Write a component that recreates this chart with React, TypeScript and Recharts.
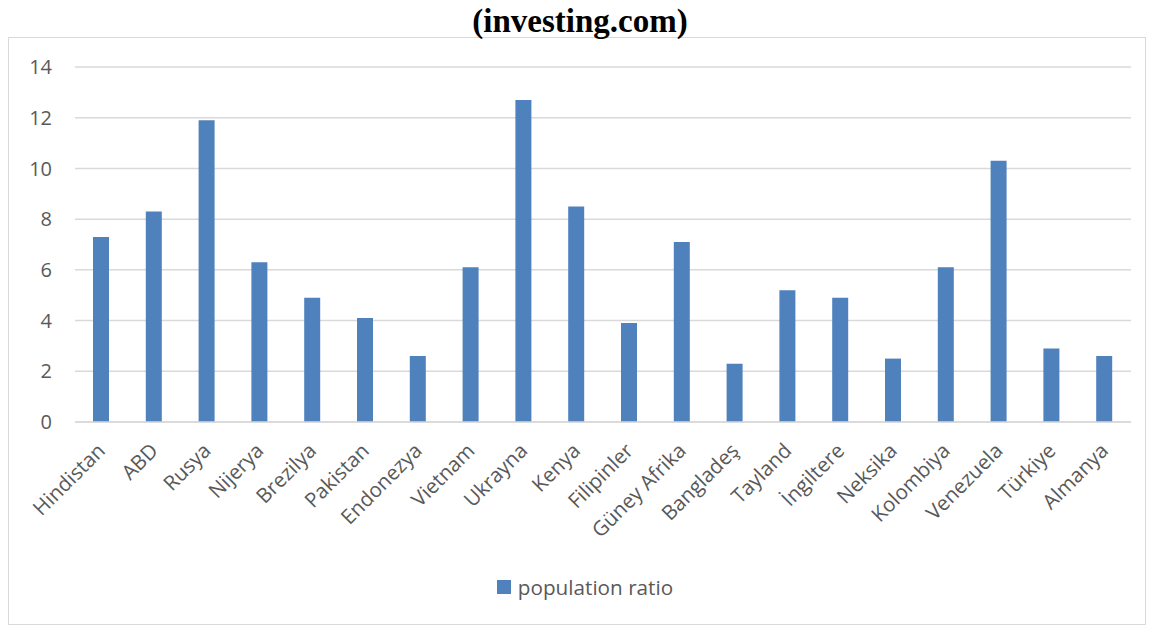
import { BarChart, Bar, XAxis, YAxis, CartesianGrid, Legend } from "recharts";

const countries = [
  "Hindistan", "ABD", "Rusya", "Nijerya", "Brezilya", "Pakistan", "Endonezya",
  "Vietnam", "Ukrayna", "Kenya", "Filipinler", "Güney Afrika", "Bangladeş",
  "Tayland", "İngiltere", "Neksika", "Kolombiya", "Venezuela", "Türkiye", "Almanya",
];
const populationRatio = [
  7.3, 8.3, 11.9, 6.3, 4.9, 4.1, 2.6, 6.1, 12.7, 8.5,
  3.9, 7.1, 2.3, 5.2, 4.9, 2.5, 6.1, 10.3, 2.9, 2.6,
];
const yTicks = [0, 2, 4, 6, 8, 10, 12, 14];

const data = countries.map((name, i) => ({ name, value: populationRatio[i] }));

const FONT = "'Open Sans', sans-serif";
const TEXT = "#595959";
const BLUE = "#4f81bd";

const CountryTick = ({ x, y, payload }: any) => (
  <g transform={`translate(${x + 5},${y + 30})`}>
    <text
      x={0}
      y={0}
      textAnchor="end"
      transform="rotate(-45)"
      fill={TEXT}
      fontSize={20.5}
      fontFamily={FONT}
    >
      {payload.value}
    </text>
  </g>
);

const LegendContent = () => (
  <div
    style={{
      display: "flex",
      justifyContent: "center",
      alignItems: "center",
      paddingLeft: 30,
      fontFamily: FONT,
      fontSize: 20.7,
      color: TEXT,
      height: 30,
    }}
  >
    <span style={{ width: 14, height: 14, background: BLUE, marginRight: 7, display: "inline-block" }} />
    <span>population ratio</span>
  </div>
);

export default function App() {
  return (
    <div style={{ position: "relative", width: 1138, height: 618 }}>
      <div
        style={{
          position: "absolute",
          top: 29,
          left: 0,
          width: 1138,
          height: 588,
          border: "1px solid #d9d9d9",
          boxSizing: "border-box",
          background: "#fff",
        }}
      >
        <BarChart
          width={1136}
          height={586}
          data={data}
          margin={{ top: 29, right: 14, bottom: 22, left: 0 }}
        >
          <CartesianGrid vertical={false} stroke="#d9d9d9" strokeWidth={1.5} />
          <XAxis
            dataKey="name"
            interval={0}
            height={150}
            tickSize={0}
            tickMargin={0}
            tickLine={false}
            axisLine={{ stroke: "#d9d9d9", strokeWidth: 1.5 }}
            tick={<CountryTick />}
          />
          <YAxis
            width={66}
            domain={[0, 14]}
            ticks={yTicks}
            axisLine={false}
            tickLine={false}
            tickSize={0}
            tickMargin={23}
            tick={{ fill: TEXT, fontSize: 20, fontFamily: FONT }}
          />
          <Legend verticalAlign="bottom" height={30} content={<LegendContent />} />
          <Bar dataKey="value" name="population ratio" fill={BLUE} barSize={16} isAnimationActive={false} />
        </BarChart>
      </div>
      <div
        style={{
          position: "absolute",
          top: -2,
          left: 0,
          width: "100%",
          textAlign: "center",
          fontFamily: "'Liberation Serif', 'Times New Roman', serif",
          fontWeight: "bold",
          fontSize: 33,
          lineHeight: "30px",
          paddingLeft: 6,
          boxSizing: "border-box",
        }}
      >
        (investing.com)
      </div>
    </div>
  );
}
